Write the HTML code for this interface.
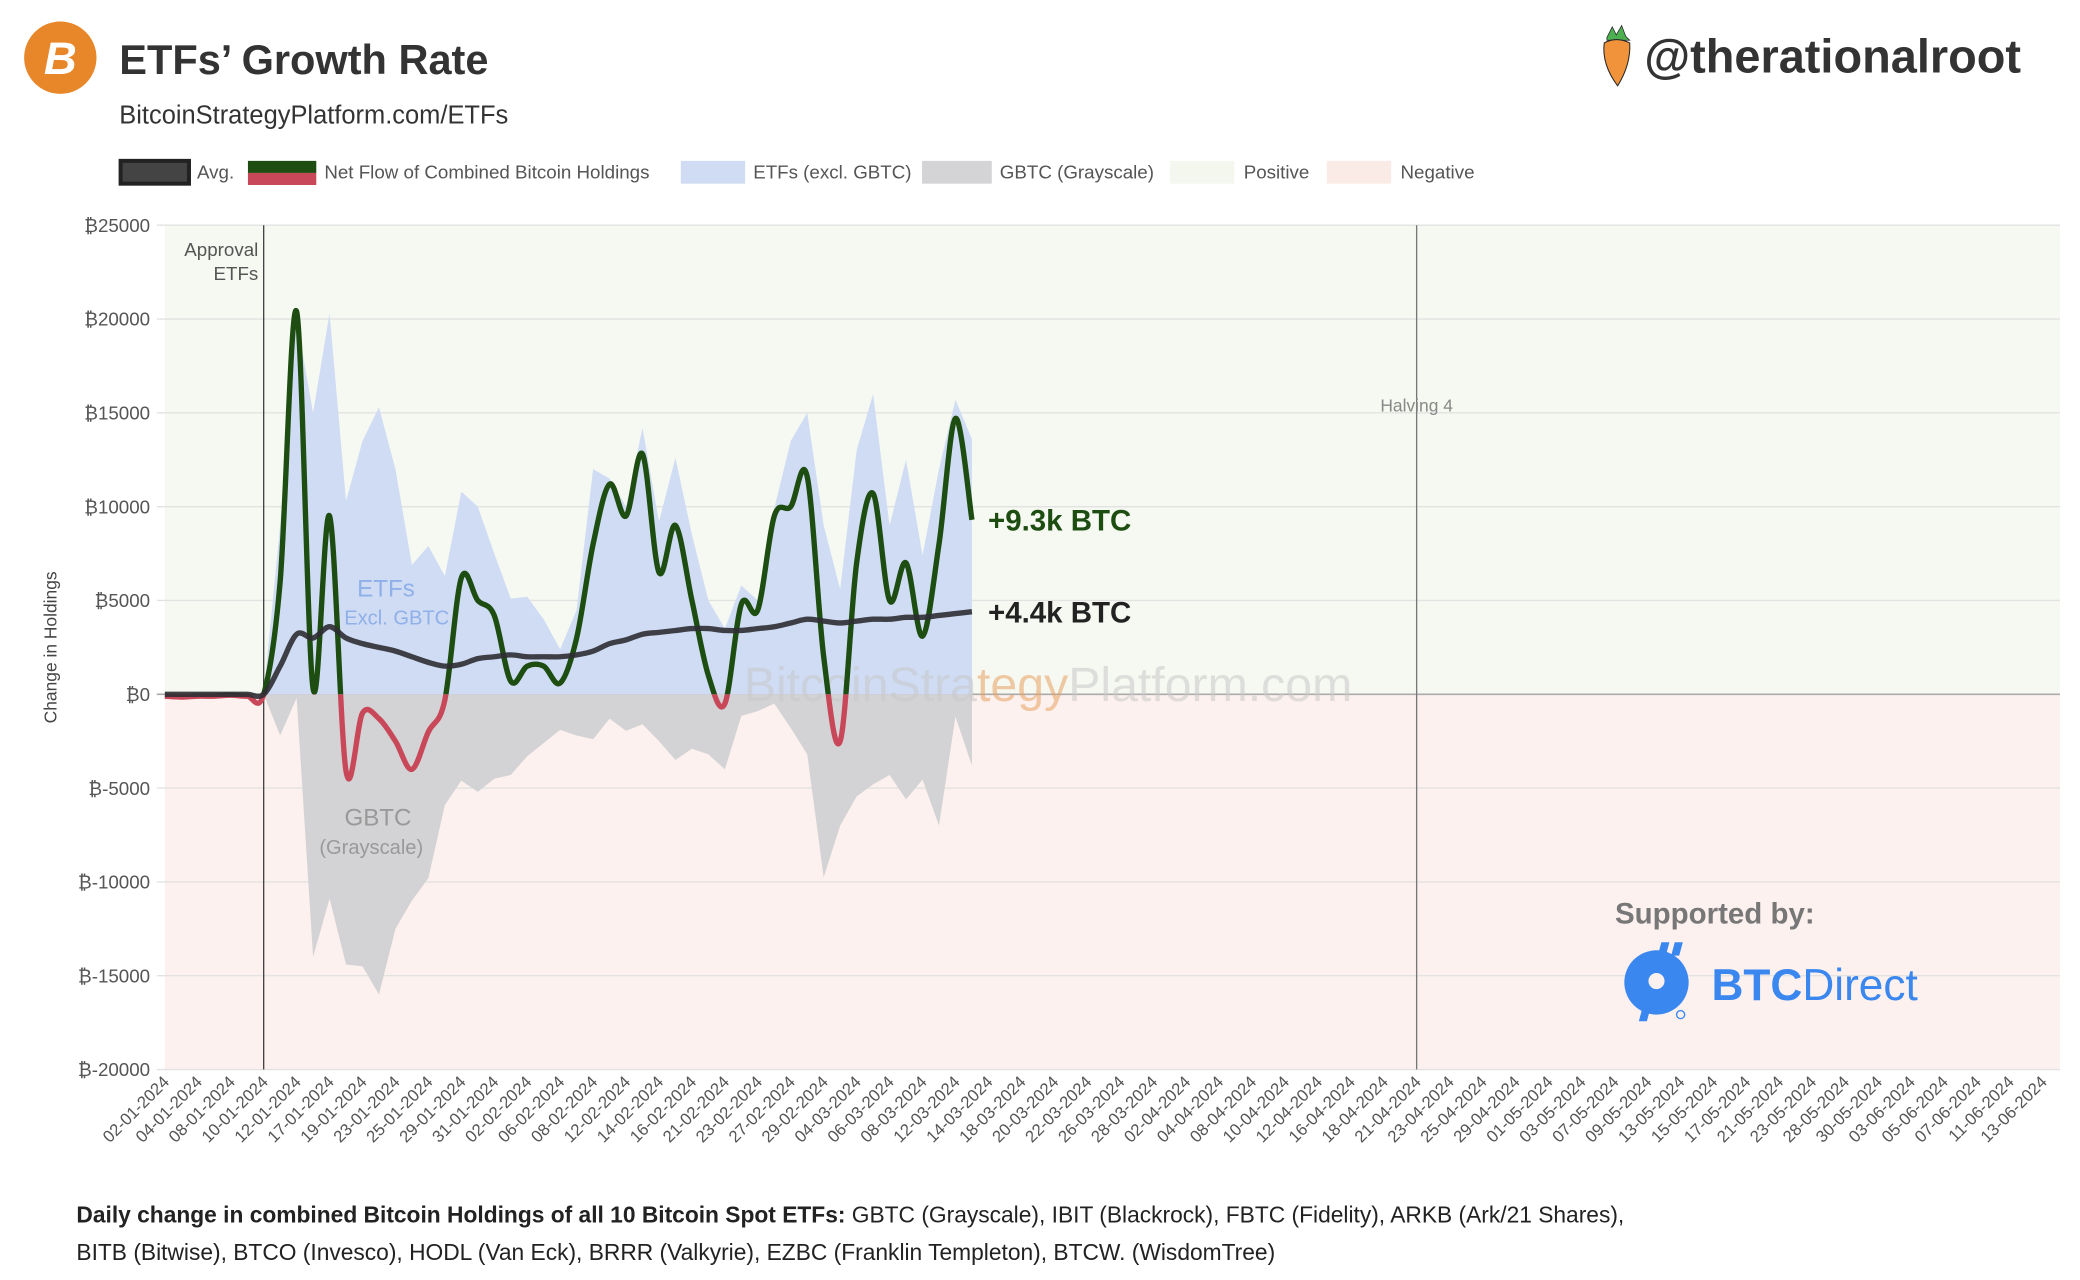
<!DOCTYPE html>
<html><head><meta charset="utf-8"><style>
html,body{margin:0;padding:0;background:#fff;}
svg{display:block;font-family:"Liberation Sans","DejaVu Sans",sans-serif;}
</style></head><body>
<svg id="chart" width="2080" height="1280" viewBox="0 0 1552 955" xmlns="http://www.w3.org/2000/svg">
<!-- header -->
<g>
<circle cx="45" cy="43" r="27" fill="#e8862a"/>
<text x="45" y="55" text-anchor="middle" font-size="34" font-weight="bold" fill="#fff" font-style="italic">B</text>
<text x="89" y="55" font-size="31" font-weight="bold" fill="#333">ETFs’ Growth Rate</text>
<text x="89" y="92" font-size="19" fill="#333">BitcoinStrategyPlatform.com/ETFs</text>
<g>
<path d="M1199 28 L1203 20 L1206 26 L1210 19 L1213 27 L1216 30 L1199 30Z" fill="#4caf50" stroke="#2a2a2a" stroke-width="0.6"/>
<path d="M1197 32 Q1206 27 1216 32 Q1217 48 1207 64 Q1195 48 1197 32Z" fill="#f0933a" stroke="#2a2a2a" stroke-width="0.8"/>
</g>
<text x="1227" y="54" font-size="35" font-weight="bold" fill="#333">@therationalroot</text>
</g>
<!-- legend -->
<g font-size="14" fill="#555">
<rect x="90" y="120" width="51" height="17" fill="#444" stroke="#222" stroke-width="3"/>
<text x="147" y="133">Avg.</text>
<rect x="185" y="120" width="51" height="9" fill="#1e4d12"/>
<rect x="185" y="129" width="51" height="9" fill="#c8485a"/>
<text x="242" y="133">Net Flow of Combined Bitcoin Holdings</text>
<rect x="508" y="120" width="48" height="17" fill="#cfdcf4"/>
<text x="562" y="133">ETFs (excl. GBTC)</text>
<rect x="688" y="120" width="52" height="17" fill="#d4d4d6"/>
<text x="746" y="133">GBTC (Grayscale)</text>
<rect x="873" y="120" width="48" height="17" fill="#f3f7ee"/>
<text x="928" y="133">Positive</text>
<rect x="990" y="120" width="48" height="17" fill="#fbebe6"/>
<text x="1045" y="133">Negative</text>
</g>
<g id="plot"></g>
<!-- supported by -->
<g>
<text x="1205" y="689" font-size="22" font-weight="bold" fill="#777">Supported by:</text>
<g>
<circle cx="1236" cy="733" r="24" fill="#3a87ef"/>
<rect x="1228" y="703" width="6" height="10" fill="#3a87ef" transform="skewX(-15) translate(200 0)"/>
<rect x="1238" y="703" width="6" height="10" fill="#3a87ef" transform="skewX(-15) translate(200 0)"/>
<rect x="1224" y="752" width="6" height="10" fill="#3a87ef" transform="skewX(-15) translate(203 0)"/>
<circle cx="1236" cy="732" r="6" fill="#fcf1ee"/>
<circle cx="1254" cy="757" r="3" fill="none" stroke="#3a87ef" stroke-width="1"/>
</g>
<text x="1277" y="746" font-size="33" fill="#3a87ef"><tspan font-weight="bold">BTC</tspan>Direct</text>
</g>
<!-- footnote -->
<g font-size="17" fill="#222">
<text x="57" y="912"><tspan font-weight="bold">Daily change in combined Bitcoin Holdings of all 10 Bitcoin Spot ETFs:</tspan> GBTC (Grayscale), IBIT (Blackrock), FBTC (Fidelity), ARKB (Ark/21 Shares),</text>
<text x="57" y="940">BITB (Bitwise), BTCO (Invesco), HODL (Van Eck), BRRR (Valkyrie), EZBC (Franklin Templeton), BTCW. (WisdomTree)</text>
</g>
</svg>
<script>
const dateLabels = ["02-01-2024","04-01-2024","08-01-2024","10-01-2024","12-01-2024","17-01-2024","19-01-2024","23-01-2024","25-01-2024","29-01-2024","31-01-2024","02-02-2024","06-02-2024","08-02-2024","12-02-2024","14-02-2024","16-02-2024","21-02-2024","23-02-2024","27-02-2024","29-02-2024","04-03-2024","06-03-2024","08-03-2024","12-03-2024","14-03-2024","18-03-2024","20-03-2024","22-03-2024","26-03-2024","28-03-2024","02-04-2024","04-04-2024","08-04-2024","10-04-2024","12-04-2024","16-04-2024","18-04-2024","21-04-2024","23-04-2024","25-04-2024","29-04-2024","01-05-2024","03-05-2024","07-05-2024","09-05-2024","13-05-2024","15-05-2024","17-05-2024","21-05-2024","23-05-2024","28-05-2024","30-05-2024","03-06-2024","05-06-2024","07-06-2024","11-06-2024","13-06-2024"];
const yTicks = [25000,20000,15000,10000,5000,0,-5000,-10000,-15000,-20000];
const netFlow = [-100,-150,-100,-100,-50,-100,0,6000,20400,300,9500,-4100,-1000,-1300,-2500,-4000,-2000,-300,6200,5000,4200,700,1500,1500,600,3000,8000,11200,9500,12800,6500,9000,5000,1000,-500,4800,4500,9500,10000,11600,2000,-2500,7000,10700,5000,7000,3100,8000,14700,9300];
const avgFlow = [0,0,0,0,0,0,0,1500,3200,3000,3600,3000,2700,2500,2300,2000,1700,1500,1600,1900,2000,2100,2000,2000,2000,2100,2300,2700,2900,3200,3300,3400,3500,3500,3400,3400,3500,3600,3800,4000,3900,3800,3900,4000,4000,4100,4100,4200,4300,4400];
const etfsExGbtc = [0,0,0,0,0,0,0,9000,20000,15000,20300,10300,13500,15300,12000,6900,7900,6300,10800,10000,7500,5100,5200,4000,2400,4500,12000,11500,10000,14200,9200,12600,8500,5000,3500,5800,5000,9900,13500,15000,9000,5600,13000,16000,9000,12500,7400,12000,15700,13600];
const gbtc = [0,0,0,0,0,0,0,-2200,-200,-14000,-10900,-14400,-14500,-16000,-12500,-11000,-9800,-5900,-4600,-5200,-4500,-4300,-3300,-2600,-1900,-2200,-2400,-1300,-1950,-1600,-2500,-3500,-2900,-3200,-4000,-1150,-900,-500,-1800,-3200,-9750,-7000,-5450,-4800,-4300,-5600,-4550,-7000,-1200,-3800];
const approvalIndex = 6;   // data index of 10-01-2024
const halvingLabel = 38;   // label index of 21-04-2024
const lastNet = "+9.3k BTC";
const lastAvg = "+4.4k BTC";

const NS="http://www.w3.org/2000/svg";
const L=123,R=1537,T=168,B=798;
const yMin=-20000,yMax=25000;
const labelStep=24.58;
function y(v){return B-(v-yMin)/(yMax-yMin)*(B-T);}
function xLabel(j){return L+j*labelStep;}
function x(i){return L+i*labelStep/2;}
const plot=document.getElementById('plot');
function el(tag,attrs,parent){const e=document.createElementNS(NS,tag);for(const k in attrs)e.setAttribute(k,attrs[k]);(parent||plot).appendChild(e);return e;}
function smooth(pts){let d="M"+pts[0][0]+","+pts[0][1];for(let i=0;i<pts.length-1;i++){const p0=pts[Math.max(0,i-1)],p1=pts[i],p2=pts[i+1],p3=pts[Math.min(pts.length-1,i+2)];const c1x=p1[0]+(p2[0]-p0[0])/6,c1y=p1[1]+(p2[1]-p0[1])/6,c2x=p2[0]-(p3[0]-p1[0])/6,c2y=p2[1]-(p3[1]-p1[1])/6;d+=" C"+c1x+","+c1y+" "+c2x+","+c2y+" "+p2[0]+","+p2[1];}return d;}

// backgrounds
const bgPos=el('rect',{x:L,y:T,width:R-L,height:y(0)-T,fill:'#f6f9f1'});


const bgNeg=el('rect',{x:L,y:y(0),width:R-L,height:B-y(0),fill:'#fcf1ee'});



// grid + y labels
yTicks.forEach(v=>{
  const g=el('line',{x1:L-6,x2:R,y1:y(v),y2:y(v),stroke:v===0?'#aaa':'#e2e2e2','stroke-width':v===0?1.2:1});
  
  
  const t=el('text',{x:112,y:y(v)+5,'text-anchor':'end','font-size':14,fill:'#555'});
  
  
  t.textContent='₿'+v;
});
const yTitle=el('text',{x:0,y:0,transform:'translate(42,483) rotate(-90)','text-anchor':'middle','font-size':13,fill:'#444'});


yTitle.textContent='Change in Holdings';

// x labels
dateLabels.forEach((d,j)=>{
  const t=el('text',{x:0,y:0,transform:'translate('+(xLabel(j)+4)+',808) rotate(-45)','text-anchor':'end','font-size':12.5,fill:'#555'});
  
  
  t.textContent=d;
});

// areas
function area(arr,fill,name){
  let d="M"+x(approvalIndex)+","+y(0);
  for(let i=approvalIndex;i<arr.length;i++)d+=" L"+x(i)+","+y(arr[i]);
  d+=" L"+x(arr.length-1)+","+y(0)+"Z";
  const p=el('path',{d:d,fill:fill});
  
  
}
area(gbtc,'#d3d3d5','gbtc-area');
area(etfsExGbtc,'#cfdcf4','etfs-area');

// watermark
const wm=el('text',{x:782,y:523,'text-anchor':'middle','font-size':36,fill:'#c9c9c9','fill-opacity':0.55});


wm.innerHTML='BitcoinStra<tspan fill="#e8a060">tegy</tspan>Platform.com';

// area labels
const lbls=[["ETFs",288,445,18,'#8fb0e8','etfs-area-label'],["Excl. GBTC",296,466,15,'#8fb0e8','etfs-area-sublabel'],["GBTC",282,616,18,'#999','gbtc-area-label'],["(Grayscale)",277,637,15,'#999','gbtc-area-sublabel']];
lbls.forEach(a=>{const t=el('text',{x:a[1],y:a[2],'text-anchor':'middle','font-size':a[3],fill:a[4]});


t.textContent=a[0];});

// vertical lines
const ax=x(approvalIndex);
const apl=el('line',{x1:ax,x2:ax,y1:T,y2:B,stroke:'#444','stroke-width':1});


[["Approval",191],["ETFs",209]].forEach(a=>{const t=el('text',{x:ax-4,y:a[1],'text-anchor':'end','font-size':14,fill:'#555'});


t.textContent=a[0];});
const hx=xLabel(halvingLabel);
const hl=el('line',{x1:hx,x2:hx,y1:T,y2:B,stroke:'#777','stroke-width':1});


const ht=el('text',{x:hx,y:307,'text-anchor':'middle','font-size':13,fill:'#888'});


ht.textContent='Halving 4';

// net flow line with clip
const defs=el('defs',{});
const cp1=el('clipPath',{id:'clipPos'},defs);el('rect',{x:0,y:0,width:1552,height:y(0)},cp1);
const cp2=el('clipPath',{id:'clipNeg'},defs);el('rect',{x:0,y:y(0),width:1552,height:955},cp2);
const netPts=netFlow.map((v,i)=>[x(i),y(v)]);
const nd=smooth(netPts);
const nNeg=el('path',{d:nd,fill:'none',stroke:'#c8485a','stroke-width':4,'clip-path':'url(#clipNeg)','stroke-linejoin':'round'});


const nPos=el('path',{d:nd,fill:'none',stroke:'#1e4d12','stroke-width':4,'clip-path':'url(#clipPos)','stroke-linejoin':'round'});


const ad=smooth(avgFlow.map((v,i)=>[x(i),y(v)]));
const al=el('path',{d:ad,fill:'none',stroke:'#2e2e33','stroke-width':4,'stroke-opacity':0.9});



// end labels
const n=netFlow.length-1;
const e1=el('text',{x:x(n)+12,y:y(netFlow[n])+8,'font-size':22,'font-weight':'bold',fill:'#1e4d12'});


e1.textContent=lastNet;
const e2=el('text',{x:x(n)+12,y:y(avgFlow[n])+8,'font-size':22,'font-weight':'bold',fill:'#222'});


e2.textContent=lastAvg;
</script>
</body></html>
